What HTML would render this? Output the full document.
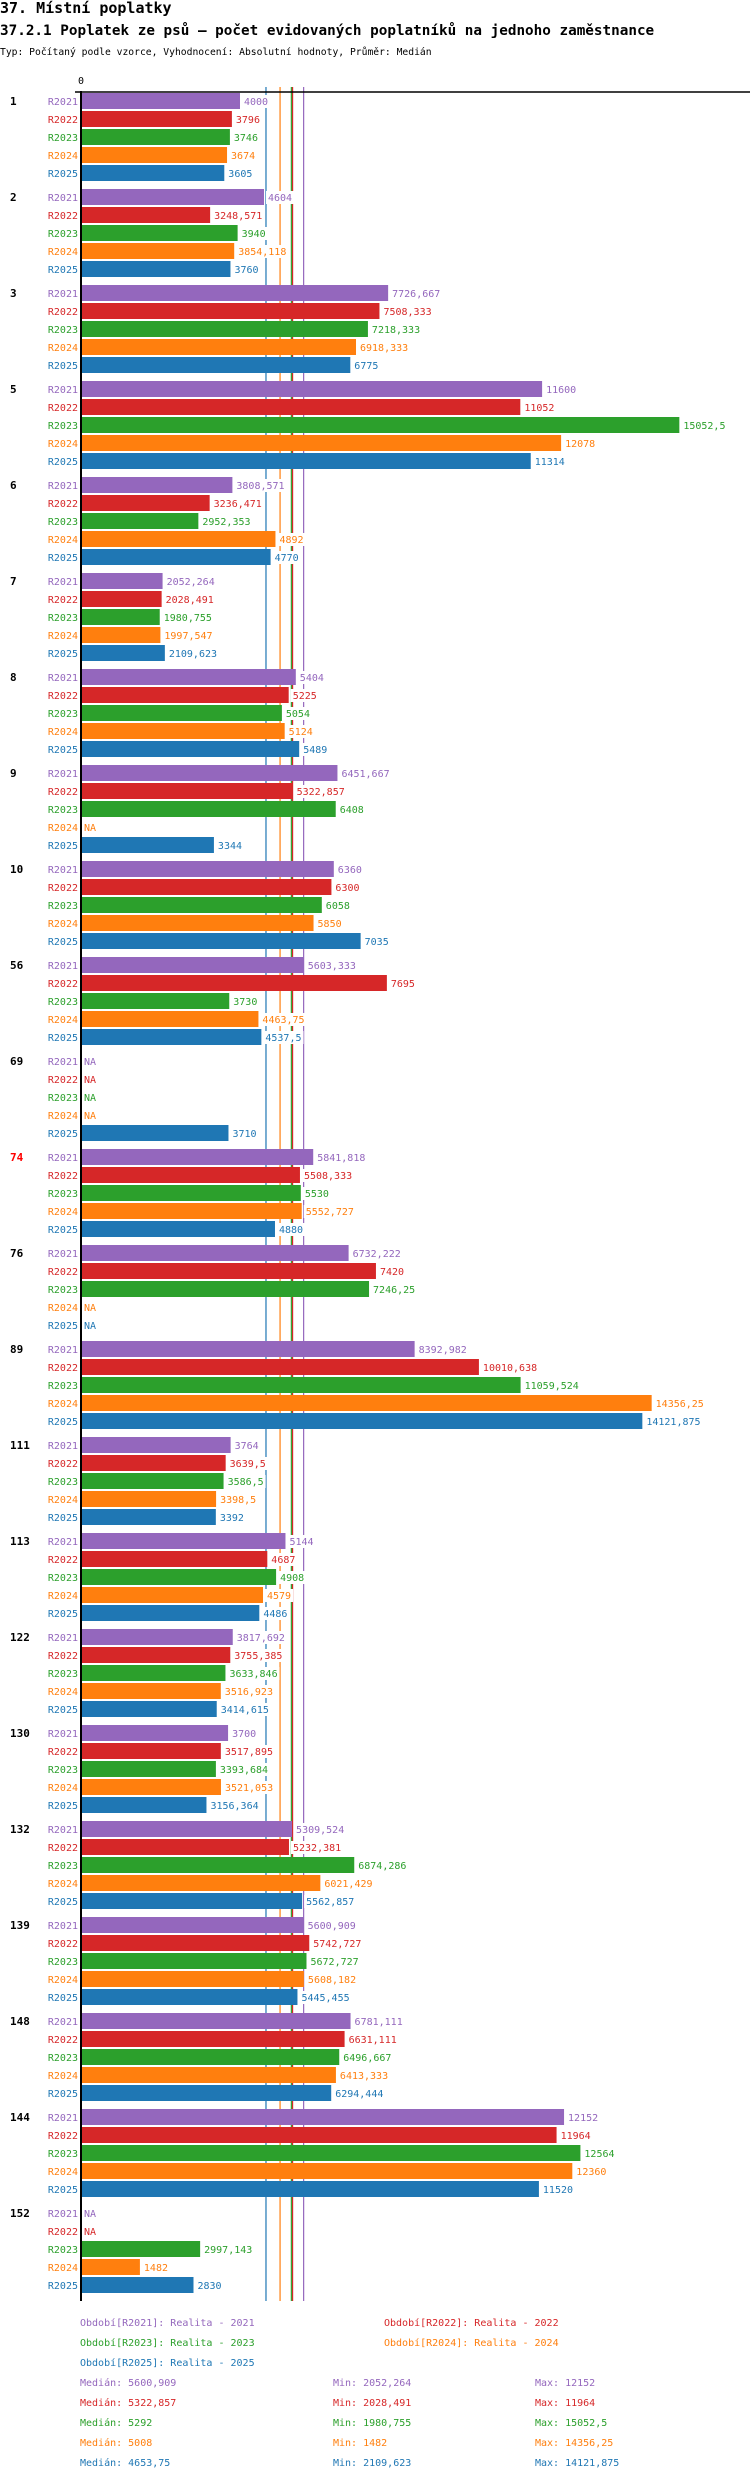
<!DOCTYPE html>
<html><head><meta charset="utf-8"><style>
body{margin:0;background:#fff;width:750px;height:2480px;overflow:hidden;font-family:"DejaVu Sans Mono","Liberation Mono",monospace}
svg{display:block}
</style></head><body>
<svg id="c" width="750" height="2480" xmlns="http://www.w3.org/2000/svg">
<text x="0" y="13" font-size="15" font-weight="bold" font-family="DejaVu Sans Mono,monospace">37. Místní poplatky</text>
<text x="0" y="35" font-size="14.3" font-weight="bold" font-family="DejaVu Sans Mono,monospace">37.2.1 Poplatek ze psů – počet evidovaných poplatníků na jednoho zaměstnance</text>
<text x="0" y="55" font-size="9.7" font-family="DejaVu Sans Mono,monospace">Typ: Počítaný podle vzorce, Vyhodnocení: Absolutní hodnoty, Průměr: Medián</text>
<g id="g"></g>
</svg>
<script>
const groups=["1","2","3","5","6","7","8","9","10","56","69","74","76","89","111","113","122","130","132","139","148","144","152"];
const series=["R2021","R2022","R2023","R2024","R2025"];
const s2021=[4000,4604,7726.667,11600,3808.571,2052.264,5404,6451.667,6360,5603.333,null,5841.818,6732.222,8392.982,3764,5144,3817.692,3700,5309.524,5600.909,6781.111,12152,null];
const s2022=[3796,3248.571,7508.333,11052,3236.471,2028.491,5225,5322.857,6300,7695,null,5508.333,7420,10010.638,3639.5,4687,3755.385,3517.895,5232.381,5742.727,6631.111,11964,null];
const s2023=[3746,3940,7218.333,15052.5,2952.353,1980.755,5054,6408,6058,3730,null,5530,7246.25,11059.524,3586.5,4908,3633.846,3393.684,6874.286,5672.727,6496.667,12564,2997.143];
const s2024=[3674,3854.118,6918.333,12078,4892,1997.547,5124,null,5850,4463.75,null,5552.727,null,14356.25,3398.5,4579,3516.923,3521.053,6021.429,5608.182,6413.333,12360,1482];
const s2025=[3605,3760,6775,11314,4770,2109.623,5489,3344,7035,4537.5,3710,4880,null,14121.875,3392,4486,3414.615,3156.364,5562.857,5445.455,6294.444,11520,2830];
const medians=[5600.909,5322.857,5292,5008,4653.75];
const mins=["2052,264","2028,491","1980,755","1482","2109,623"];
const maxs=["12152","11964","15052,5","14356,25","14121,875"];
const medianLabels=["5600,909","5322,857","5292","5008","4653,75"];
const colors=["#9467bd","#d62728","#2ca02c","#ff7f0e","#1f77b4"];
const data=[s2021,s2022,s2023,s2024,s2025];
const X0=81,K=0.03975;
const x=v=>X0+v*K;
const y=(g,i)=>93+g*96+i*18;
const NS="http://www.w3.org/2000/svg";
const G=document.getElementById('g');
function mk(t,a,txt){const e=document.createElementNS(NS,t);for(const k in a)e.setAttribute(k,a[k]);if(txt!=null)e.textContent=txt;G.appendChild(e);return e;}
const fmt=v=>String(v).replace('.',',');
// median lines
medians.forEach((m,i)=>{
 const l=mk('line',{x1:x(m),x2:x(m),y1:87,y2:2301,stroke:colors[i],'stroke-width':1.2});
 
 
});
const ax=mk('line',{x1:75,x2:750,y1:92,y2:92,stroke:'#000','stroke-width':1.5});


const zl=mk('text',{x:X0,y:84,'font-size':10,'text-anchor':'middle'},'0');


groups.forEach((gn,g)=>{
 const gl=mk('text',{x:10,y:y(g,0)+12,'font-size':11,'font-weight':'bold',fill:gn==="74"?'#f00':'#000'},gn);
 
 
 series.forEach((s,i)=>{
  const v=data[i][g],yy=y(g,i);
  const sl=mk('text',{x:78,y:yy+12,'font-size':10,'text-anchor':'end',fill:colors[i]},s);
  
  
  if(v==null){
   const na=mk('text',{x:X0+3,y:yy+12,'font-size':10,fill:colors[i]},'NA');
   
   
   return;
  }
  const b=mk('rect',{x:X0,y:yy,width:x(v)-X0,height:16,fill:colors[i]});
  
  
  const t=fmt(v);
  const bg=mk('rect',{x:x(v)+2,y:yy+2,width:t.length*6.02+4,height:13,fill:'#fff'});
  
  
  const vl=mk('text',{x:x(v)+4,y:yy+12,'font-size':10,fill:colors[i]},t);
  
  
 });
});
const yax=mk('line',{x1:X0,x2:X0,y1:91,y2:2301,stroke:'#000','stroke-width':2});


// legend
const legPos=[[80,2326],[384,2326],[80,2346],[384,2346],[80,2366]];
series.forEach((s,i)=>{
 const t=mk('text',{x:legPos[i][0],y:legPos[i][1],'font-size':10,fill:colors[i]},'Období['+s+']: Realita - '+s.slice(1));
 
 
 const yy=2386+i*20;
 const a=mk('text',{x:80,y:yy,'font-size':10,fill:colors[i]},'Medián: '+medianLabels[i]);
 
 
 const b=mk('text',{x:333,y:yy,'font-size':10,fill:colors[i]},'Min: '+mins[i]);
 
 
 const c=mk('text',{x:535,y:yy,'font-size':10,fill:colors[i]},'Max: '+maxs[i]);
 
 
});
</script>
</body></html>
